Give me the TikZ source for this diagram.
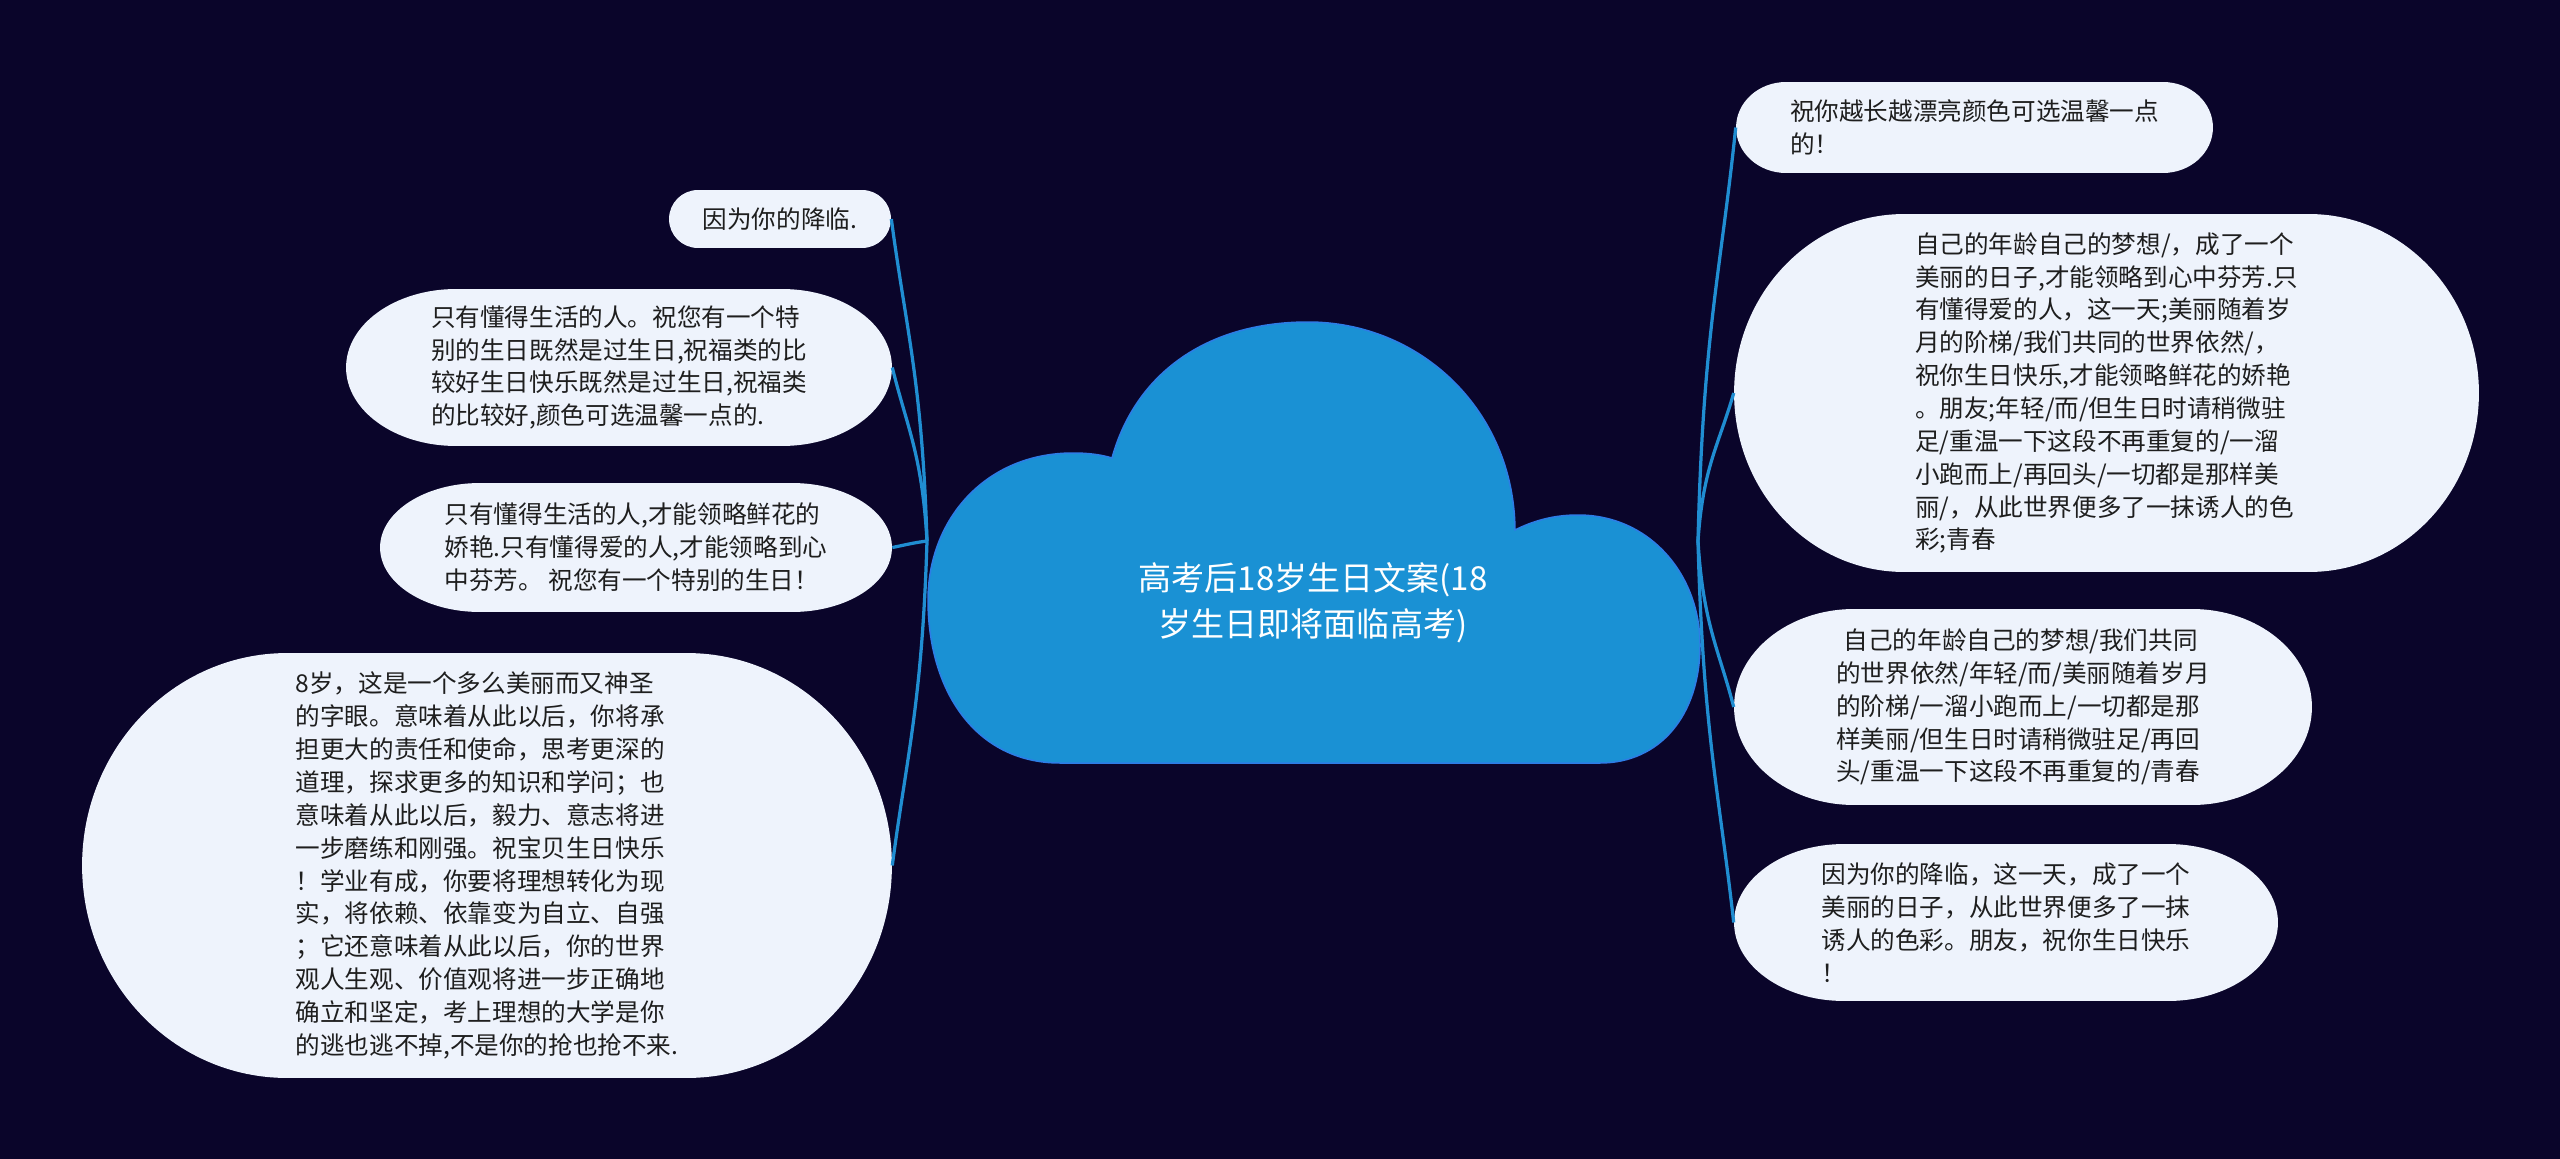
\documentclass[tikz,border=0pt]{standalone}
\usepackage{fontspec}
\newfontfamily\cjk{Noto Sans CJK SC}
\usetikzlibrary{calc}
\definecolor{bgc}{RGB}{10,5,42}
\definecolor{cloudc}{RGB}{26,145,212}
\definecolor{cloudline}{RGB}{45,125,230}
\definecolor{linkc}{RGB}{32,142,210}
\definecolor{leafc}{RGB}{238,243,252}
\definecolor{leaftxt}{RGB}{30,30,30}
\newcommand{\leaffont}{\cjk\fontsize{14pt}{18.7pt}\selectfont}
\newcommand{\rootfont}{\cjk\fontsize{18.8pt}{26.1pt}\selectfont}
\tikzset{
  leaf/.style n args={3}{rectangle, inner sep=0pt, align=left, text=leaftxt, font=\leaffont,
    minimum width=#1, minimum height=#2,
    path picture={\fill[leafc] ([xshift=#3]path picture bounding box.north west)
      -- ([xshift=-#3]path picture bounding box.north east)
      arc[start angle=90, end angle=-90, x radius=#3, y radius=#2/2]
      -- ([xshift=#3]path picture bounding box.south west)
      arc[start angle=270, end angle=90, x radius=#3, y radius=#2/2] -- cycle;}},
  root/.style={align=center, text=white, font=\rootfont, inner sep=0pt},
  cloud/.style={fill=cloudc, draw=cloudline, line width=0.03cm},
  link/.style={draw=linkc, line width=0.065cm}
}
\begin{document}
\begin{tikzpicture}[x=0.02cm, y=-0.02cm]
	\fill[bgc] (0,0) rectangle (2560,1159);
	\coordinate (rootW) at (927,541);
	\coordinate (rootE) at (1698,541);
	% cloud
	\filldraw[cloud] (1060,763) .. controls (975,763) and (928,690) .. (928,600)
		.. controls (928,520) and (985,453) .. (1073,453)
		.. controls (1090,453) and (1102,455) .. (1112,458)
		.. controls (1135,375) and (1205,322) .. (1308,322)
		.. controls (1420,322) and (1514,410) .. (1515,530)
		.. controls (1535,520) and (1555,515) .. (1578,515)
		.. controls (1650,515) and (1700,575) .. (1700,645)
		.. controls (1700,715) and (1660,763) .. (1600,763) -- cycle;
	\node[root] (root) at (1313,603) {高考后18岁生日文案(18\\岁生日即将面临高考)};

	\node[leaf={4.44cm}{1.16cm}{0.58cm}] (lA) at (780,219) {因为你的降临.};
	\node[leaf={10.92cm}{3.14cm}{2.2cm}] (lB) at (619,367.5) {只有懂得生活的人。祝您有一个特\\别的生日既然是过生日,祝福类的比\\较好生日快乐既然是过生日,祝福类\\的比较好,颜色可选温馨一点的.};
	\node[leaf={10.24cm}{2.58cm}{2.0cm}] (lC) at (636,547.5) {只有懂得生活的人,才能领略鲜花的\\娇艳.只有懂得爱的人,才能领略到心\\中芬芳。 祝您有一个特别的生日！};
	\node[leaf={16.2cm}{8.5cm}{4.1cm}] (lD) at (487,865.5) {8岁，这是一个多么美丽而又神圣\\的字眼。意味着从此以后，你将承\\担更大的责任和使命，思考更深的\\道理，探求更多的知识和学问；也\\意味着从此以后，毅力、意志将进\\一步磨练和刚强。祝宝贝生日快乐\\！学业有成，你要将理想转化为现\\实，将依赖、依靠变为自立、自强\\；它还意味着从此以后，你的世界\\观人生观、价值观将进一步正确地\\确立和坚定，考上理想的大学是你\\的逃也逃不掉,不是你的抢也抢不来.};

	\node[leaf={9.54cm}{1.82cm}{1.0cm}] (rA) at (1974.5,127.5) {祝你越长越漂亮颜色可选温馨一点\\的！};
	\node[leaf={14.9cm}{7.16cm}{3.4cm}] (rB) at (2106.5,393) {自己的年龄自己的梦想/，成了一个\\美丽的日子,才能领略到心中芬芳.只\\有懂得爱的人，这一天;美丽随着岁\\月的阶梯/我们共同的世界依然/，\\祝你生日快乐,才能领略鲜花的娇艳\\。朋友;年轻/而/但生日时请稍微驻\\足/重温一下这段不再重复的/一溜\\小跑而上/再回头/一切都是那样美\\丽/，从此世界便多了一抹诱人的色\\彩;青春};
	\node[leaf={11.56cm}{3.92cm}{2.4cm}] (rC) at (2023,707) {\hspace{0.3em}自己的年龄自己的梦想/我们共同\\的世界依然/年轻/而/美丽随着岁月\\的阶梯/一溜小跑而上/一切都是那\\样美丽/但生日时请稍微驻足/再回\\头/重温一下这段不再重复的/青春};
	\node[leaf={10.88cm}{3.14cm}{2.2cm}] (rD) at (2006,922.5) {因为你的降临，这一天，成了一个\\美丽的日子，从此世界便多了一抹\\诱人的色彩。朋友，祝你生日快乐\\！};
	%
	\draw[link] (rootW) .. controls +(-5,-161) and +(15,113) .. (lA.east);
	\draw[link] (rootW) .. controls +(-5,-87) and +(15,61) .. (lB.east);
	\draw[link] (rootW) .. controls +(-15,2) and +(15,-3) .. (lC.east);
	\draw[link] (rootW) .. controls +(-5,162) and +(15,-113) .. (lD.east);

	\draw[link] (rootE) .. controls +(5,-207) and +(-15,145) .. (rA.west);
	\draw[link] (rootE) .. controls +(5,-74) and +(-15,52) .. (rB.west);
	\draw[link] (rootE) .. controls +(5,83) and +(-15,-58) .. (rC.west);
	\draw[link] (rootE) .. controls +(5,190) and +(-15,-133) .. (rD.west);
\end{tikzpicture}
\end{document}
